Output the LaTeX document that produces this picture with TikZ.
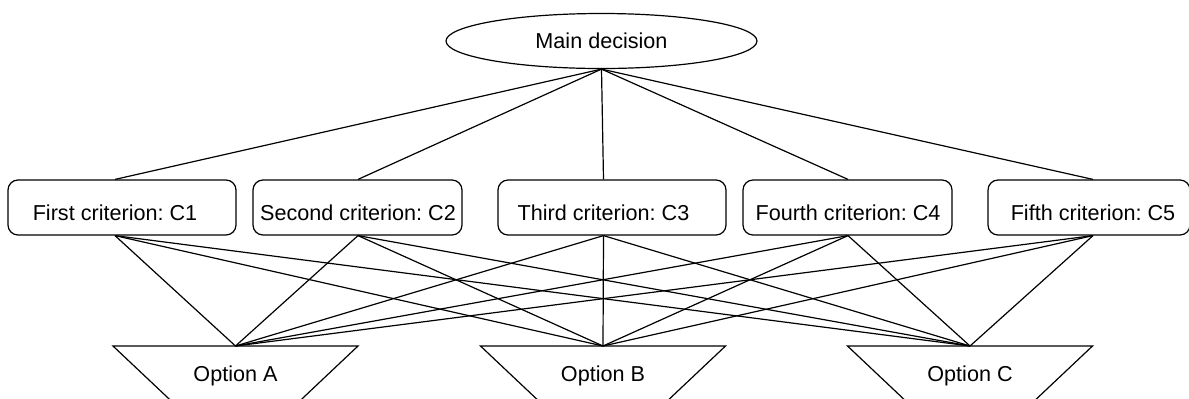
\documentclass[tikz,border=0pt]{standalone}
\usepackage{fontspec}
\setmainfont{Liberation Sans}
\usetikzlibrary{shapes.geometric}
\frenchspacing
\begin{document}
\begin{tikzpicture}[x=0.5pt,y=-0.5pt,line width=0.6pt,
  every node/.style={font=\fontsize{10.8}{13}\selectfont},
  decision/.style={draw,ellipse,minimum width=155.5pt,minimum height=27.5pt,inner sep=0pt},
  critbox/.style={draw,rounded corners=5pt,minimum height=27.5pt,inner sep=0pt},
  lbl/.style={anchor=base,inner sep=0pt},
  link/.style={line width=0.6pt},
  optshape/.style={line width=0.6pt}]
\clip (0,0) rectangle (1189,398);
% main decision
\node[decision] (main) at (601.5,41) {Main decision};
% criteria boxes
\node[critbox,minimum width=114pt]  (c1) at (122,207.5)  {};
\node[critbox,minimum width=104.5pt](c2) at (357.5,207.5) {};
\node[critbox,minimum width=114pt]  (c3) at (612,207.5)  {};
\node[critbox,minimum width=104.5pt](c4) at (847.5,207.5) {};
\node[critbox,minimum width=101pt]  (c5) at (1089,207.5) {};
\node[lbl] (c1l) at (115,220)  {First criterion: C1};
\node[lbl] (c2l) at (358,220)  {Second criterion: C2};
\node[lbl] (c3l) at (603.5,220){Third criterion: C3};
\node[lbl] (c4l) at (848,220)  {Fourth criterion: C4};
\node[lbl] (c5l) at (1093,220) {Fifth criterion: C5};
% options
\foreach \n/\cx/\t in {oa/235.5/Option A, ob/603/Option B, oc/970/Option C} {
  \draw[optshape] (\cx-122.5,346) -- (\cx+122.5,346) -- (\cx+33.5,430) -- (\cx-33.5,430) -- cycle;
  \coordinate (\n) at (\cx,346);
  \node[lbl] (\n l) at (\cx,381) {\t};
}
% connectors from main decision to criteria
\foreach \c in {c1,c2,c3,c4,c5} {
  \draw[link] (main.south) -- (\c.north -| \c l);
}
% connectors from criteria to options
\foreach \c in {c1,c2,c3,c4,c5} {
  \foreach \o in {oa,ob,oc} {
    \draw[link] (\c.south -| \c l) -- (\o);
  }
}
\end{tikzpicture}
\end{document}
